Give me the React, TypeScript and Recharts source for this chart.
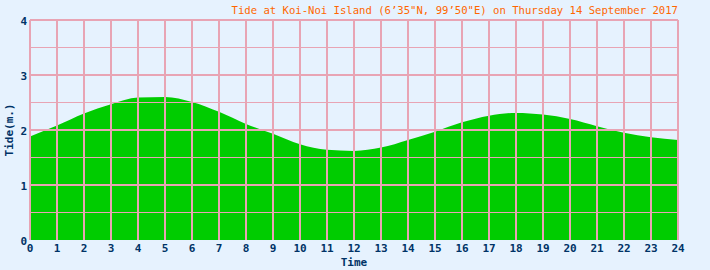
import React from 'react';
import { AreaChart, Area, XAxis, YAxis, ReferenceLine } from 'recharts';

const hours = [0, 1, 2, 3, 4, 5, 6, 7, 8, 9, 10, 11, 12, 13, 14, 15, 16, 17, 18, 19, 20, 21, 22, 23, 24];
const tide = [1.88, 2.08, 2.30, 2.47, 2.59, 2.60, 2.51, 2.33, 2.11, 1.93, 1.74, 1.64, 1.62, 1.68, 1.82, 1.97, 2.14, 2.26, 2.31, 2.28, 2.20, 2.07, 1.95, 1.87, 1.82];
const xTicks = hours;
const yTicks = [0, 1, 2, 3, 4];
const yHalf = [0.5, 1.5, 2.5, 3.5];
const title = 'Tide at Koi-Noi Island (6’35"N, 99’50"E) on Thursday 14 September 2017';
const xTitle = 'Time';
const yTitle = 'Tide(m.)';

const data = hours.map((h, i) => ({ h, v: tide[i] }));

const PINK = '#e8a4b4';
const NAVY = '#003366';
const FONT = '"DejaVu Sans Mono", "Liberation Mono", monospace';

export default function App() {
  return (
    <div style={{ position: 'absolute', left: 0, top: 0, width: 710, height: 270, background: '#e6f2fe' }}>
      <AreaChart width={710} height={270} data={data} margin={{ top: 20, right: 32, left: 0, bottom: 0 }}>
        <XAxis
          dataKey="h"
          type="number"
          domain={[0, 24]}
          ticks={xTicks}
          interval={0}
          tickLine={false}
          axisLine={false}
          tickSize={3}
          tickMargin={1}
          height={30}
          tick={{ fill: NAVY, fontSize: 11, fontWeight: 'bold', fontFamily: FONT }}
        />
        <YAxis
          type="number"
          domain={[0, 4]}
          ticks={yTicks}
          interval={0}
          tickLine={false}
          axisLine={false}
          tickSize={2}
          tickMargin={1}
          width={30}
          tick={{ fill: NAVY, fontSize: 11, fontWeight: 'bold', fontFamily: FONT, dy: 1 }}
        />
        <Area
          type="monotone"
          dataKey="v"
          stroke="none"
          fill="#00cc00"
          fillOpacity={1}
          isAnimationActive={false}
        />
        {yHalf.map((y) => (
          <ReferenceLine key={'h' + y} y={y} stroke={PINK} strokeWidth={1} />
        ))}
        {yTicks.filter((y) => y > 0).map((y) => (
          <ReferenceLine key={'y' + y} y={y} stroke={PINK} strokeWidth={2} />
        ))}
        {xTicks.map((x) => (
          <ReferenceLine key={'x' + x} x={x} stroke={PINK} strokeWidth={2} />
        ))}
        <text x={678} y={14} textAnchor="end" fill="#ff6600" fontSize={10.6} fontFamily={FONT}>
          {title}
        </text>
        <text x={354} y={266} textAnchor="middle" fill={NAVY} fontSize={11} fontWeight="bold" fontFamily={FONT}>
          {xTitle}
        </text>
        <text x={13} y={130} transform="rotate(-90, 13, 130)" textAnchor="middle" fill={NAVY} fontSize={11} fontWeight="bold" fontFamily={FONT}>
          {yTitle}
        </text>
      </AreaChart>
    </div>
  );
}
